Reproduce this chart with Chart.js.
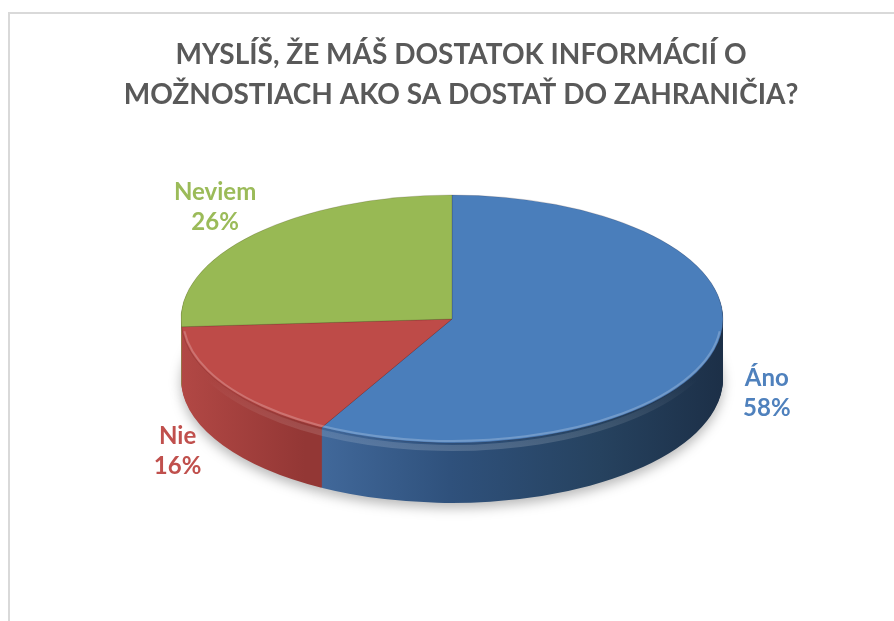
<!DOCTYPE html>
<html>
<head>
<meta charset="utf-8">
<script src="https://cdn.jsdelivr.net/npm/chart.js@4.4.1/dist/chart.umd.min.js"></script>
<style>
  html, body { margin: 0; padding: 0; background: #ffffff; }
  #wrap { position: relative; width: 894px; height: 621px; }
</style>
</head>
<body>
<div id="wrap"><canvas id="c" width="894" height="621"></canvas></div>
<script>
// ---- data ----
const categories = ['Áno', 'Nie', 'Neviem'];
const values = [58, 16, 26];
const titleLines = ['MYSLÍŠ, ŽE MÁŠ DOSTATOK INFORMÁCIÍ O', 'MOŽNOSTIACH AKO SA DOSTAŤ DO ZAHRANIČIA?'];

// ---- style ----
const topColors = ['#4A7EBB', '#BE4B48', '#98B954'];
const labelColors = ['#4F81BD', '#C0504D', '#9BBB59'];
const CX = 452, CY = 319, RX = 271, RY = 124, DEPTH = 60;

function makeTransform(chart, ctx, dy) {
  const a = chart.getDatasetMeta(0).data[0];
  const sx = RX / a.outerRadius, sy = RY / a.outerRadius;
  ctx.translate(CX, CY + dy);
  ctx.scale(sx, sy);
  ctx.translate(-a.x, -a.y);
  return {sx, sy, x: a.x, y: a.y};
}

function sideGradient(ctx, t, stops) {
  const ux = X => t.x + (X - CX) / t.sx;
  const g = ctx.createLinearGradient(ux(stops[0][0]), 0, ux(stops[stops.length - 1][0]), 0);
  const x0 = stops[0][0], x1 = stops[stops.length - 1][0];
  stops.forEach(s => g.addColorStop((s[0] - x0) / (x1 - x0), s[1]));
  return g;
}

const frame = {
  id: 'frame',
  beforeDraw(chart) {
    const ctx = chart.ctx;
    ctx.save();
    ctx.strokeStyle = '#D9D9D9';
    ctx.lineWidth = 2;
    ctx.beginPath();
    ctx.moveTo(9, 700);
    ctx.lineTo(9, 13);
    ctx.lineTo(1000, 13);
    ctx.stroke();
    ctx.restore();
  }
};

const pie3d = {
  id: 'pie3d',
  beforeDatasetsDraw(chart) {
    const ctx = chart.ctx;
    const meta = chart.getDatasetMeta(0);
    const els = meta.data;
    const base = ctx.getTransform();
    // side walls
    const sideStops = [
      [[300, '#446C9F'], [450, '#2F517C'], [600, '#26425F'], [725, '#1C2F47']],
      [[180, '#B24845'], [305, '#933735']],
      [[180, '#7F9B49'], [460, '#6F883F']]
    ];
    const order = [2, 1, 0];
    for (let d = DEPTH; d >= 1; d--) {
      ctx.save();
      ctx.setTransform(base);
      const t = makeTransform(chart, ctx, d);
      if (d === DEPTH) {
        ctx.shadowColor = 'rgba(0,0,0,0.28)';
        ctx.shadowBlur = 12;
        ctx.shadowOffsetY = 5;
      }
      order.forEach(i => {
        const el = els[i];
        const o = el.options;
        const bg = o.backgroundColor, bw = o.borderWidth;
        o.backgroundColor = sideGradient(ctx, t, sideStops[i]);
        o.borderWidth = 0;
        el.draw(ctx);
        o.backgroundColor = bg;
        o.borderWidth = bw;
      });
      ctx.restore();
    }
    // bevel between side and top
    ctx.save();
    ctx.setTransform(base);
    const g = ctx.createLinearGradient(0, CY + 60, 0, CY + RY + 14);
    g.addColorStop(0, 'rgba(255,255,255,0)');
    g.addColorStop(1, 'rgba(255,255,255,0.18)');
    ctx.strokeStyle = g;
    ctx.lineWidth = 6;
    ctx.beginPath();
    ctx.ellipse(CX, CY + 5, RX - 1, RY, 0, 0.05, Math.PI - 0.05);
    ctx.stroke();
    ctx.restore();
    // top face transform
    ctx.save();
    ctx.setTransform(base);
    makeTransform(chart, ctx, 0);
  },
  afterDatasetsDraw(chart) {
    const ctx = chart.ctx;
    ctx.restore();
    // subtle highlight along the front rim of the top face
    ctx.save();
    ctx.strokeStyle = 'rgba(255,255,255,0.22)';
    ctx.lineWidth = 2;
    ctx.beginPath();
    ctx.ellipse(CX, CY, RX - 2, RY - 2, 0, 0.1, Math.PI - 0.1);
    ctx.stroke();
    ctx.restore();
    // labels
    const els = chart.getDatasetMeta(0).data;
    const total = values.reduce((a, b) => a + b, 0);
    ctx.save();
    ctx.font = 'bold 24px Lato, "Open Sans", sans-serif';
    ctx.textAlign = 'center';
    ctx.textBaseline = 'middle';
    els.forEach((el, i) => {
      const mid = (el.startAngle + el.endAngle) / 2;
      const X = CX + 325 * Math.cos(mid);
      const Y = CY + 25 + 200 * Math.sin(mid);
      ctx.fillStyle = labelColors[i];
      ctx.fillText(categories[i], X, Y - 15);
      ctx.fillText(Math.round(values[i] / total * 100) + '%', X, Y + 15);
    });
    ctx.restore();
  }
};

new Chart(document.getElementById('c'), {
  type: 'pie',
  data: {
    labels: categories,
    datasets: [{
      data: values,
      backgroundColor: topColors,
      borderWidth: 0.8,
      borderColor: 'rgba(40,20,20,0.25)'
    }]
  },
  options: {
    responsive: false,
    animation: false,
    events: [],
    layout: { padding: { left: 28, right: 0, top: 0, bottom: 20 } },
    plugins: {
      legend: { display: false },
      tooltip: { enabled: false },
      title: {
        display: true,
        text: titleLines,
        color: '#595959',
        font: { family: 'Lato, "Open Sans", sans-serif', size: 28, weight: 'bold', lineHeight: 1.43 },
        padding: { top: 35, bottom: 10 }
      }
    }
  },
  plugins: [frame, pie3d]
});
</script>
</body>
</html>
